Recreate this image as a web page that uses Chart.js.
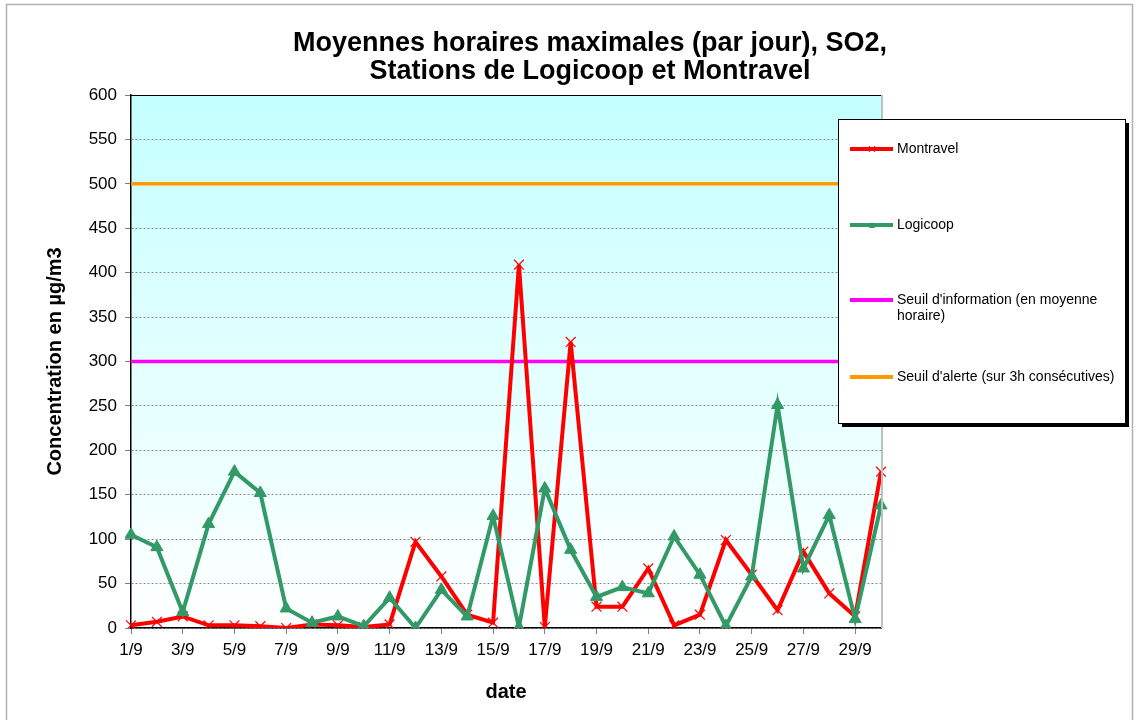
<!DOCTYPE html>
<html>
<head>
<meta charset="utf-8">
<script src="https://cdn.jsdelivr.net/npm/chart.js@4/dist/chart.umd.min.js"></script>
<style>
  html, body { margin: 0; padding: 0; background: #fff; }
  #wrap { position: relative; width: 1136px; height: 720px; }
</style>
</head>
<body>
<div id="wrap"><canvas id="so2" width="1136" height="720"></canvas></div>
<script>
// daily labels, 1/9 .. 30/9
var dates = [];
for (var d = 1; d <= 30; d++) dates.push(d + '/9');

var montravel = [3, 7, 13, 3, 3, 2, 0, 4, 3, 1, 4, 97, 58, 15, 6, 409, 1, 322, 24, 24,
                 67, 3, 15, 99, 60, 20, 86, 39, 13, 176];
var logicoop  = [105, 91, 18, 117, 176, 152, 22, 6, 13, 2, 34, 0, 43, 13, 126, 1, 157, 88, 35, 46,
                 39, 103, 60, 2, 58, 251, 67, 127, 10, 138];
var seuilInfo = 300;
var seuilAlerte = 500;
var yTicks = [0, 50, 100, 150, 200, 250, 300, 350, 400, 450, 500, 550, 600];

var FONT = "Arial, 'Liberation Sans', sans-serif";

function flat(v) { return dates.map(function() { return v; }); }

// background gradient + frames + title + legend
var decor = {
  id: 'decor',
  beforeDraw: function(chart) {
    var ctx = chart.ctx, a = chart.chartArea;
    ctx.save();
    ctx.fillStyle = '#fff';
    ctx.fillRect(0, 0, chart.width, chart.height);
    ctx.strokeStyle = '#b0b0b0';
    ctx.lineWidth = 1.5;
    ctx.strokeRect(6.5, 4.5, 1126, 730);
    var g = ctx.createLinearGradient(0, a.top, 0, a.bottom);
    g.addColorStop(0, '#c4ffff');
    g.addColorStop(1, '#ffffff');
    ctx.fillStyle = g;
    ctx.fillRect(a.left, a.top, a.right - a.left, a.bottom - a.top);
    ctx.restore();
  },
  afterDraw: function(chart) {
    var ctx = chart.ctx, a = chart.chartArea;
    ctx.save();
    // top + right border of plot
    ctx.strokeStyle = '#000';
    ctx.lineWidth = 1;
    ctx.beginPath();
    ctx.moveTo(a.left, a.top + 0.5); ctx.lineTo(a.right, a.top + 0.5);
    ctx.stroke();
    ctx.strokeStyle = '#c0c0c0';
    ctx.lineWidth = 2;
    ctx.beginPath();
    ctx.moveTo(a.right + 1, a.top); ctx.lineTo(a.right + 1, a.bottom);
    ctx.stroke();

    // title
    ctx.fillStyle = '#000';
    ctx.font = 'bold 27px ' + FONT;
    ctx.textAlign = 'center';
    ctx.textBaseline = 'middle';
    ctx.fillText('Moyennes horaires maximales (par jour), SO2,', 590, 44);
    ctx.fillText('Stations de Logicoop et Montravel', 590, 72);

    // legend box
    var lx = 838, ly = 119, lw = 287, lh = 304;
    ctx.fillStyle = '#000';
    ctx.fillRect(lx + 4, ly + 4, lw, lh);
    ctx.fillStyle = '#fff';
    ctx.fillRect(lx, ly, lw, lh);
    ctx.strokeStyle = '#000';
    ctx.lineWidth = 1;
    ctx.strokeRect(lx + 0.5, ly + 0.5, lw, lh);

    var rows = [
      { ds: 0, y: 149, text: ['Montravel'] },
      { ds: 1, y: 225, text: ['Logicoop'] },
      { ds: 2, y: 300, text: ["Seuil d'information (en moyenne", 'horaire)'] },
      { ds: 3, y: 377, text: ["Seuil d'alerte (sur 3h consécutives)"] }
    ];
    ctx.font = '14px ' + FONT;
    ctx.textAlign = 'left';
    rows.forEach(function(r) {
      var ds = chart.data.datasets[r.ds];
      ctx.strokeStyle = ds.borderColor;
      ctx.lineWidth = 4;
      ctx.beginPath();
      ctx.moveTo(850, r.y); ctx.lineTo(893, r.y);
      ctx.stroke();
      if (ds.pointStyle === 'crossRot') {
        ctx.lineWidth = 1;
        ctx.beginPath();
        ctx.moveTo(869, r.y - 3); ctx.lineTo(875, r.y + 3);
        ctx.moveTo(875, r.y - 3); ctx.lineTo(869, r.y + 3);
        ctx.stroke();
      } else if (ds.pointStyle === 'triangle') {
        ctx.fillStyle = ds.borderColor;
        ctx.beginPath();
        ctx.moveTo(872, r.y - 3); ctx.lineTo(875, r.y + 3); ctx.lineTo(869, r.y + 3);
        ctx.fill();
      }
      ctx.fillStyle = '#000';
      r.text.forEach(function(t, i) { ctx.fillText(t, 897, r.y + i * 16); });
    });
    ctx.restore();
  }
};

var ctx = document.getElementById('so2').getContext('2d');
var chart = new Chart(ctx, {
  type: 'line',
  data: {
    labels: dates,
    datasets: [
      { label: 'Montravel', data: montravel, borderColor: '#ff0000', backgroundColor: '#ff0000',
        borderWidth: 4, pointStyle: 'crossRot', pointRadius: 7, pointBorderWidth: 1.2,
        tension: 0, order: 1 },
      { label: 'Logicoop', data: logicoop, borderColor: '#339966', backgroundColor: '#339966',
        borderWidth: 4, pointStyle: 'triangle', pointRadius: 7, pointBorderWidth: 1,
        tension: 0, order: 0 },
      { label: "Seuil d'information (en moyenne horaire)", data: flat(seuilInfo),
        borderColor: '#ff00ff', backgroundColor: '#ff00ff', borderWidth: 3.5, pointRadius: 0, order: 2 },
      { label: "Seuil d'alerte (sur 3h consécutives)", data: flat(seuilAlerte),
        borderColor: '#ff9900', backgroundColor: '#ff9900', borderWidth: 3.5, pointRadius: 0, order: 2 }
    ]
  },
  options: {
    responsive: false,
    animation: false,
    layout: { padding: { left: 0, right: 255, top: 95, bottom: 0 } },
    plugins: {
      legend: { display: false },
      title: { display: false },
      tooltip: { enabled: false }
    },
    scales: {
      x: {
        offset: false,
        afterFit: function(s) { s.height = 92; },
        border: { display: true, color: '#000', width: 1.5 },
        grid: {
          drawOnChartArea: false, drawTicks: true, tickLength: 6,
          tickColor: function(c) { return c.index % 2 === 0 ? '#808080' : 'rgba(0,0,0,0)'; }
        },
        ticks: {
          autoSkip: false, maxRotation: 0, padding: 6, color: '#000',
          font: { family: FONT, size: 17 },
          callback: function(v, i) { return i % 2 === 0 ? dates[i] : ''; }
        },
        title: { display: true, text: 'date', color: '#000',
                 font: { family: FONT, size: 20, weight: 'bold' }, padding: { top: 0, bottom: 16 } }
      },
      y: {
        min: yTicks[0], max: yTicks[yTicks.length - 1],
        afterFit: function(s) { s.width = 131; },
        afterBuildTicks: function(s) { s.ticks = yTicks.map(function(v) { return { value: v }; }); },
        border: { display: true, color: '#000', width: 1.5, dash: [2, 2] },
        grid: {
          color: '#8c8c8c', lineWidth: 1,
          drawTicks: true, tickLength: 6, tickColor: '#808080', tickBorderDash: []
        },
        ticks: { padding: 8, color: '#000', font: { family: FONT, size: 17 } },
        title: { display: true, text: 'Concentration en µg/m3', color: '#000',
                 font: { family: FONT, size: 20, weight: 'bold' }, padding: { top: 43, bottom: 0 } }
      }
    }
  },
  plugins: [decor]
});
</script>
</body>
</html>
